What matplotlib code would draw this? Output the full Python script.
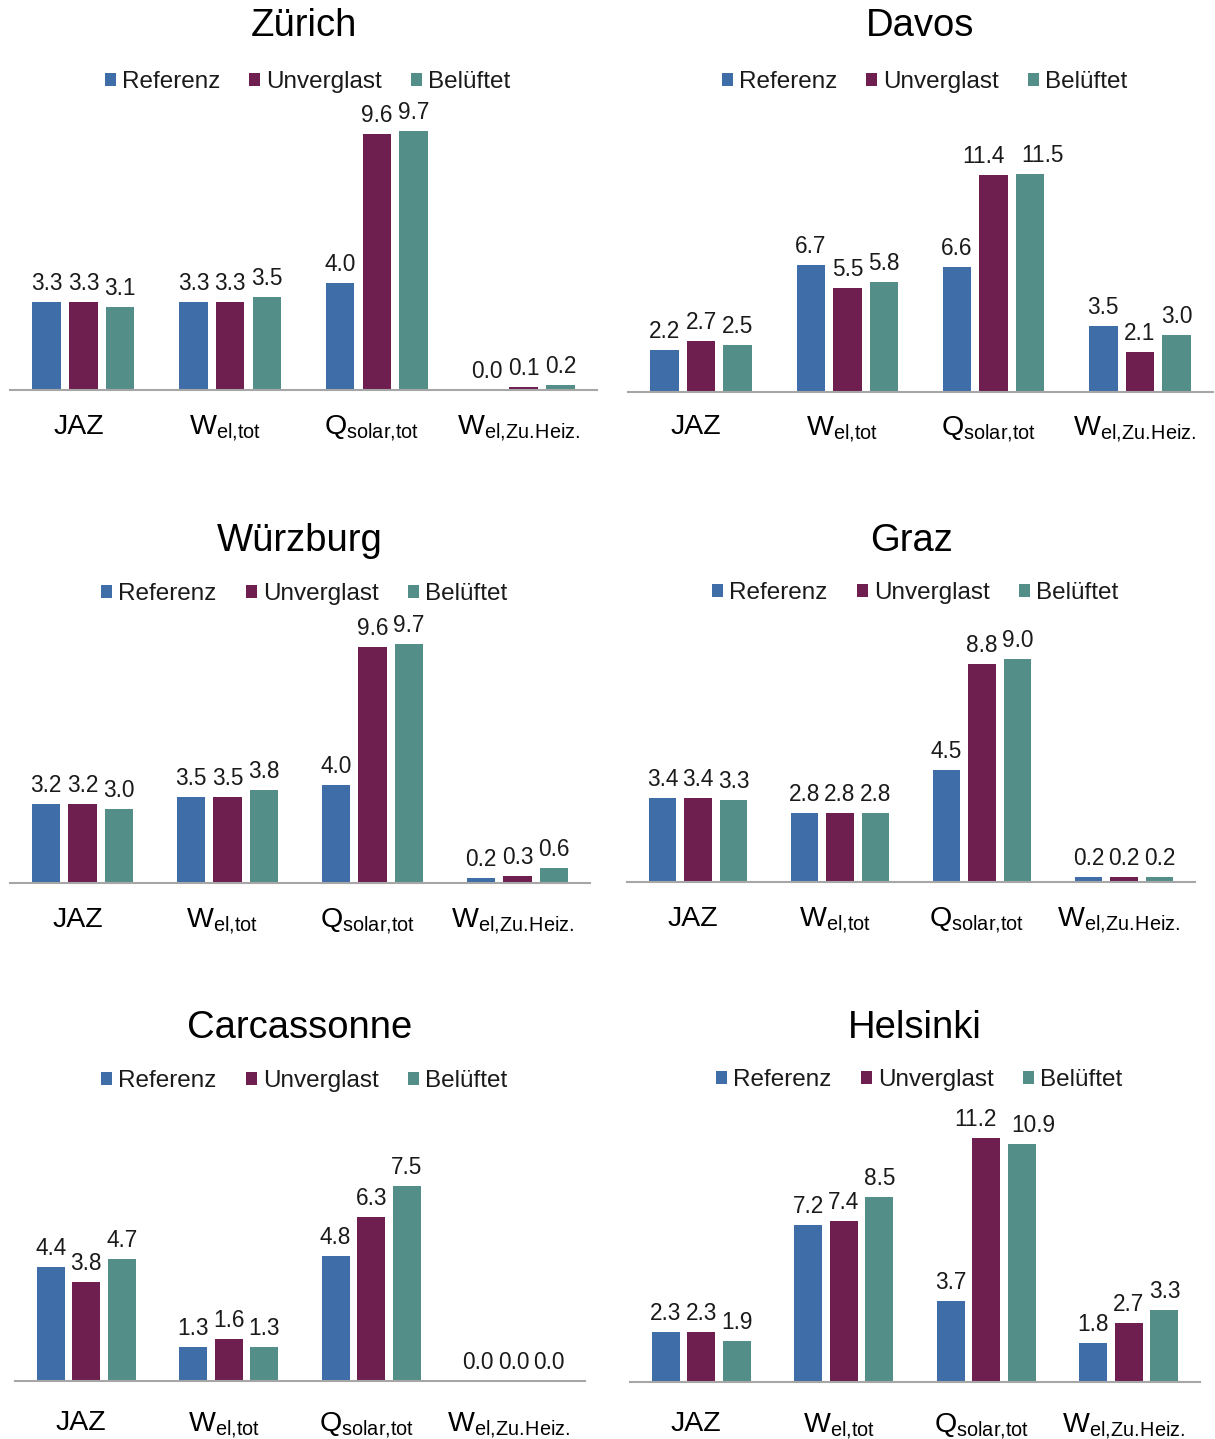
import matplotlib
matplotlib.use("Agg")
import matplotlib.pyplot as plt
from matplotlib.patches import Patch
from matplotlib.transforms import ScaledTranslation

plt.rcParams['font.family'] = ['Liberation Sans', 'DejaVu Sans']
plt.rcParams['mathtext.fontset'] = 'custom'
plt.rcParams['mathtext.rm'] = 'Liberation Sans'
plt.rcParams['mathtext.it'] = 'Liberation Sans:italic'
plt.rcParams['mathtext.bf'] = 'Liberation Sans:bold'

# ---------------- data ----------------
categories = ['JAZ', r'W$_\mathregular{el{,}tot}$', r'Q$_\mathregular{solar{,}tot}$',
              r'W$_\mathregular{el{,}Zu.\!Heiz.}$']
series_names = ['Referenz', 'Unverglast', 'Belüftet']
colors = ['#3F6DA7', '#6E1F50', '#548E88']

cities = ['Zürich', 'Davos', 'Würzburg', 'Graz', 'Carcassonne', 'Helsinki']

zuerich_ref = [3.3, 3.3, 4.0, 0.0]
zuerich_unv = [3.3, 3.3, 9.6, 0.1]
zuerich_bel = [3.1, 3.5, 9.7, 0.2]

davos_ref = [2.2, 6.7, 6.6, 3.5]
davos_unv = [2.7, 5.5, 11.4, 2.1]
davos_bel = [2.5, 5.8, 11.5, 3.0]

wuerzburg_ref = [3.2, 3.5, 4.0, 0.2]
wuerzburg_unv = [3.2, 3.5, 9.6, 0.3]
wuerzburg_bel = [3.0, 3.8, 9.7, 0.6]

graz_ref = [3.4, 2.8, 4.5, 0.2]
graz_unv = [3.4, 2.8, 8.8, 0.2]
graz_bel = [3.3, 2.8, 9.0, 0.2]

carcassonne_ref = [4.4, 1.3, 4.8, 0.0]
carcassonne_unv = [3.8, 1.6, 6.3, 0.0]
carcassonne_bel = [4.7, 1.3, 7.5, 0.0]

helsinki_ref = [2.3, 7.2, 3.7, 1.8]
helsinki_unv = [2.3, 7.4, 11.2, 2.7]
helsinki_bel = [1.9, 8.5, 10.9, 3.3]

city_data = [
    (zuerich_ref, zuerich_unv, zuerich_bel),
    (davos_ref, davos_unv, davos_bel),
    (wuerzburg_ref, wuerzburg_unv, wuerzburg_bel),
    (graz_ref, graz_unv, graz_bel),
    (carcassonne_ref, carcassonne_unv, carcassonne_bel),
    (helsinki_ref, helsinki_unv, helsinki_bel),
]

# ---------------- layout (pixels) ----------------
W, H = 1215, 1439
# x0, x1, baseline, px per unit, title_y, legend_y, category label pad (pt)
layout = [
    (10, 597, 390, 26.7, 26, 82, 17),
    (628, 1213, 392, 19.0, 26, 82, 16),
    (10, 590, 883, 24.6, 541, 594, 17),
    (627, 1195, 882, 24.8, 541, 593, 17),
    (15, 585, 1381, 26.0, 1028, 1081, 21),
    (630, 1200, 1382, 21.8, 1028, 1080, 21),
]
# manual horizontal nudges (px) of crowded value labels: (panel, series, category) -> dx
label_nudge = {(1, 1, 2): -10, (1, 2, 2): 12, (5, 1, 2): -11, (5, 2, 2): 11}

fig = plt.figure(figsize=(W / 100, H / 100), dpi=100)

text_col = '#1a1a1a'
for p, (city, data, (x0, x1, base, scale, ty, ly, pad)) in enumerate(zip(cities, city_data, layout)):
    top = ly + 22
    ax = fig.add_axes([x0 / W, 1 - base / H, (x1 - x0) / W, (base - top) / H])
    ax.set_xlim(-0.5, 3.5)
    ax.set_ylim(0, (base - top) / scale)
    handles = []
    for k, (vals, col, name) in enumerate(zip(data, colors, series_names)):
        xs = [i + (k - 1) * 0.25 for i in range(len(categories))]
        bars = ax.bar(xs, vals, width=0.195, color=col, edgecolor='none', clip_on=False)
        for c, (b, v) in enumerate(zip(bars, vals)):
            dx = label_nudge.get((p, k, c), 0) * 0.72
            ax.annotate(f'{v:.1f}', (b.get_x() + b.get_width() / 2, v),
                        xytext=(dx, 5), textcoords='offset points',
                        ha='center', va='bottom', fontsize=16.3, color=text_col,
                        annotation_clip=False)
        handles.append(Patch(facecolor=col, edgecolor='none', label=name))
    for s in ['top', 'left', 'right']:
        ax.spines[s].set_visible(False)
    ax.spines['bottom'].set_color('#A6A6A6')
    ax.spines['bottom'].set_linewidth(1.5)
    ax.set_yticks([])
    ax.set_xticks(range(len(categories)))
    ax.set_xticklabels(categories, fontsize=20.5, color='black')
    ax.tick_params(axis='x', length=0, pad=pad)
    for lab in ax.get_xticklabels():
        lab.set_transform(lab.get_transform() + ScaledTranslation(-5 / 100, 0, fig.dpi_scale_trans))
    ax.set_facecolor('none')
    cx = (x0 + x1) / 2
    fig.text(cx / W, 1 - ty / H, city, ha='center', va='center', fontsize=27.5, color='black')
    ax.legend(handles=handles, loc='center', bbox_to_anchor=((cx + 4) / W, 1 - ly / H),
              bbox_transform=fig.transFigure, ncol=3, frameon=False, fontsize=17.5,
              handlelength=0.45, handleheight=0.45, handletextpad=0.25,
              columnspacing=1.2, borderaxespad=0, borderpad=0, labelcolor=text_col)

fig.savefig('out.png', dpi=100, facecolor='white')
